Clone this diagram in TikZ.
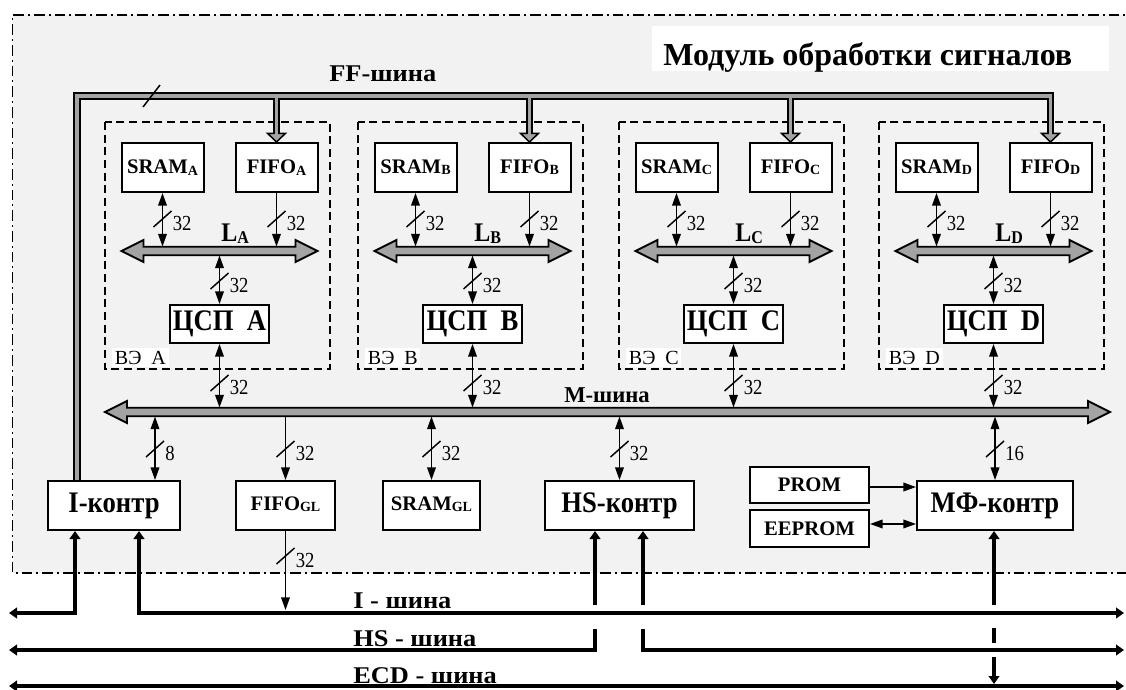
\documentclass[tikz,border=0pt]{standalone}
\usepackage{graphicx}
\usepackage{fontspec}
\setmainfont{Liberation Serif}
\usetikzlibrary{arrows.meta}
\definecolor{bgc}{HTML}{F2F2F2}
\definecolor{busgray}{HTML}{A3A3A3}
\newcommand\fsz[1]{\fontsize{#1}{#1}\selectfont}
\newcommand\sbs[1]{\raisebox{-1pt}{\fontsize{10.5}{10.5}\selectfont #1}}
\newcommand\tall[1]{\scalebox{1}[1.12]{#1}}
\newcommand\wide[1]{\scalebox{1.1}[1]{#1}}
\newcommand\busarrow[3]{%
  \filldraw[fill=busgray, draw=black, line width=1.4pt, line join=miter]
    (#1,#3) -- (#1+22,#3-11) -- (#1+22,#3-4.3) -- (#2-22,#3-4.3) -- (#2-22,#3-11)
    -- (#2,#3) -- (#2-22,#3+11) -- (#2-22,#3+4.3) -- (#1+22,#3+4.3) -- (#1+22,#3+11) -- cycle;}
\newcommand\slashmark[3]{%
  \draw[line width=1.1pt] (#1-9,#2+8) -- (#1+9,#2-8);
  \node[num] at (#1+10,#2+4) {\scalebox{1}[1.15]{#3}};}
\begin{document}
\begin{tikzpicture}[x=0.75pt,y=-0.75pt,
  bx/.style={draw, line width=1.5pt, fill=white, inner sep=0pt, align=center},
  smallbx/.style={bx, minimum width=61.5pt, minimum height=36.75pt, font={\fsz{15.5}\bfseries}},
  cspbx/.style={bx, minimum width=74.25pt, minimum height=28.5pt, font={\fsz{20}\bfseries}},
  ctrl/.style={bx, minimum height=36.75pt, font={\fsz{20}\bfseries}},
  glbx/.style={bx, minimum height=36.75pt, font={\fsz{15.5}\bfseries}},
  rombx/.style={bx, minimum width=89.25pt, minimum height=27pt, font={\fsz{15.5}\bfseries}},
  num/.style={font=\fsz{14}, inner sep=0pt, anchor=west},
  buslbl/.style={font={\fsz{18}\bfseries}, inner sep=0pt, anchor=base west},
  llbl/.style={font={\fsz{18}\bfseries}, inner sep=0pt, anchor=base west},
  velbl/.style={font=\fsz{15}, fill=white, inner sep=2pt, anchor=south west},
  vebox/.style={draw, line width=1.5pt, dash pattern=on 6pt off 3.5pt},
  conn/.style={line width=1.1pt},
  arr/.style={conn, -{Triangle[length=9.5pt,width=6.5pt]}},
  darr/.style={conn, {Triangle[length=9.5pt,width=6.5pt]}-{Triangle[length=9.5pt,width=6.5pt]}},
  thickln/.style={line width=3.4pt, line join=miter},
  tarr/.style={thickln, -{Triangle[length=6pt,width=8pt]}},
  tdarr/.style={thickln, {Triangle[length=6pt,width=8pt]}-{Triangle[length=6pt,width=8pt]}}
]
\useasboundingbox (0,0) rectangle (1126,689);
% module background
\fill[bgc] (12.5,15) rectangle (1140,573);
\draw[line width=1.2pt, dash pattern=on 8pt off 3pt on 1.5pt off 3pt]
  (1140,15) -- (12.5,15) -- (12.5,573) -- (1140,573);
% title
\begin{scope}
  \clip (652,26) rectangle (1109,71);
  \fill[white] (652,26) rectangle (1109,71);
  \node[font={\fsz{24}\bfseries}, inner sep=0pt, anchor=base west] (title) at (663,65) {Модуль обработки сигналов};
\end{scope}
% bus reference lines
\coordinate (Mt) at (0,407.5);
\coordinate (Mb) at (0,416.5);
% VE blocks
\foreach \L/\X in {A/105,B/358,C/619,D/879}{
  \draw[vebox] (\X,122) rectangle (\X+225,369);
  \node[velbl] (ve\L) at (\X+7,367.5) {ВЭ\ \ \L};
  \node[smallbx] (sram\L) at (\X+57.5,167.5) {SRAM\sbs{\L}};
  \node[smallbx] (fifo\L) at (\X+171.5,167.5) {FIFO\sbs{\L}};
  \node[cspbx] (csp\L) at (\X+114.5,324) {\tall{ЦСП\ \ \L}};
  \node[llbl] (lab\L) at (\X+116,241) {\tall{L\raisebox{-1.5pt}{\fsz{12}\L}}};
  \busarrow{\X+16.5}{\X+212.5}{251}
  \coordinate (Lt\L) at (\X,246.5);
  \coordinate (Lb\L) at (\X,255.5);
  \draw[darr] (sram\L.south) -- (sram\L.south |- Lt\L);
  \draw[arr] (fifo\L.south) -- (fifo\L.south |- Lt\L);
  \draw[darr] (csp\L.north) -- (csp\L.north |- Lb\L);
  \draw[darr] (csp\L.south) -- (csp\L.south |- Mt);
  \slashmark{\X+57.5}{219}{32}
  \slashmark{\X+171.5}{219}{32}
  \slashmark{\X+114.5}{281}{32}
  \slashmark{\X+114.5}{383}{32}
}
% M bus
\busarrow{105}{1110}{412}
\node[buslbl, font={\fsz{17}\bfseries}] (mlbl) at (564,402) {М-шина};
% lower row
\node[ctrl, minimum width=99pt] (Ictrl) at (114,505.5) {\tall{I-контр}};
\node[glbx, minimum width=74.25pt] (fifoGL) at (285.5,505.5) {\raisebox{3pt}{FIFO\sbs{GL}}};
\node[glbx, minimum width=72.75pt] (sramGL) at (431.5,505.5) {\raisebox{3pt}{SRAM\sbs{GL}}};
\node[ctrl, minimum width=111.75pt] (HSctrl) at (619.5,505.5) {\tall{HS-контр}};
\node[ctrl, minimum width=117pt] (MFctrl) at (995,505.5) {\tall{МФ-контр}};
\node[rombx] (prom) at (809.5,485) {PROM};
\node[rombx, minimum height=27.75pt] (eeprom) at (809.5,528.5) {EEPROM};
\coordinate (Ilk) at (155,0);
\draw[darr] (Ictrl.north -| Ilk) -- (Mb -| Ilk);
\draw[arr] (Mb -| fifoGL.north) -- (fifoGL.north);
\draw[darr] (sramGL.north) -- (sramGL.north |- Mb);
\draw[darr] (HSctrl.north) -- (HSctrl.north |- Mb);
\draw[darr] (MFctrl.north) -- (MFctrl.north |- Mb);
\draw[arr] ([yshift=-1.5pt]prom.east) -- ([yshift=-1.5pt]prom.east -| MFctrl.west);
\draw[darr] ([yshift=3.4pt]eeprom.east) -- ([yshift=3.4pt]eeprom.east -| MFctrl.west);
\slashmark{155}{449}{8}
\slashmark{285.5}{449}{32}
\slashmark{431.5}{449}{32}
\slashmark{619.5}{449}{32}
\slashmark{995}{449}{16}
% FIFO_GL to I-bus
\coordinate (It) at (0,610);
\draw[arr] (fifoGL.south) -- (fifoGL.south |- It);
\slashmark{285.5}{556}{32}
% FF bus
\coordinate (ffx) at (77,0);
\coordinate (ffy) at (0,96);
\foreach \w/\c in {5.8pt/black,2.8pt/busgray}{
  \draw[line width=\w, draw=\c, line join=miter]
    (Ictrl.north -| ffx) -- (ffx |- ffy) -- (fifoD.north |- ffy) -- ([yshift=6pt]fifoD.north);
  \foreach \L in {A,B,C}
    \draw[line width=\w, draw=\c] (fifo\L.north |- ffy) -- ([yshift=6pt]fifo\L.north);
}
\foreach \L in {A,B,C,D}{
  \filldraw[fill=busgray, draw=black, line width=1.1pt, line join=miter]
    ([xshift=-6.75pt,yshift=6.5pt]fifo\L.north) -- ([xshift=6.75pt,yshift=6.5pt]fifo\L.north) -- (fifo\L.north) -- cycle;
  \draw[busgray, line width=2.8pt] ([yshift=7.5pt]fifo\L.north) -- ([yshift=5.5pt]fifo\L.north);
}
\coordinate (ffs1) at (143,107);
\coordinate (ffs2) at (160,85);
\draw[line width=1.1pt] (ffs1) -- (ffs2);
\node[buslbl] (fflbl) at (329,81) {\wide{FF-шина}};
% bottom buses
\coordinate (ILend) at (9,613);
\coordinate (IRend) at (1124,613);
\coordinate (HSL) at (9,650);
\coordinate (HSR) at (1124,650);
\coordinate (ECDL) at (9,686);
\coordinate (ECDR) at (1124,686);
\coordinate (Ia) at (75,0);
\coordinate (Ib) at (139,0);
\coordinate (hsa) at (595,0);
\coordinate (hsb) at (643,0);
\coordinate (mfx) at (994,0);
\coordinate (gapT) at (0,605);
\coordinate (gapB) at (0,629);
\draw[tdarr] (Ictrl.south -| Ia) |- (ILend);
\draw[tdarr] (Ictrl.south -| Ib) |- (IRend);
\draw[tarr] (hsa |- gapT) -- (HSctrl.south -| hsa);
\draw[tarr] (hsa |- gapB) |- (HSL);
\draw[tarr] (hsb |- gapT) -- (HSctrl.south -| hsb);
\draw[tarr] (hsb |- gapB) |- (HSR);
\draw[tdarr] (ECDL) -- (ECDR);
\coordinate (mf1) at (994,628);
\coordinate (mf2) at (994,643);
\coordinate (mf3) at (994,657);
\coordinate (mf4) at (994,684);
\draw[tarr] (mfx |- gapT) -- (MFctrl.south -| mfx);
\draw[thickln] (mf1) -- (mf2);
\draw[tarr] (mf3) -- (mf4);
\node[buslbl] (ilbl) at (353,608) {\wide{I - шина}};
\node[buslbl] (hslbl) at (353,646) {\wide{HS - шина}};
\node[buslbl] (ecdlbl) at (353,683) {\wide{ECD - шина}};
\end{tikzpicture}
\end{document}
